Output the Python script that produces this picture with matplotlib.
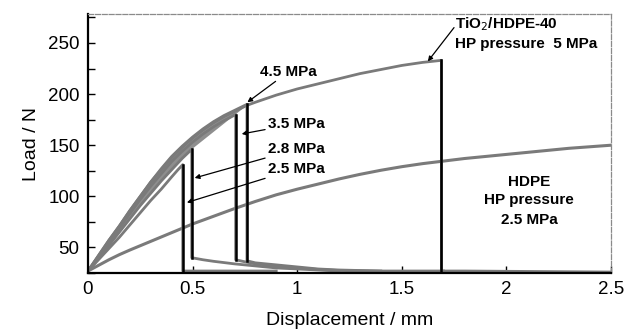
import matplotlib
matplotlib.use("Agg")
import matplotlib.pyplot as plt
from matplotlib.ticker import MultipleLocator, FixedLocator

plt.rcParams['font.family'] = ['Liberation Sans', 'DejaVu Sans']

# ---- data ----
# TiO2/HDPE-40 samples, by HP pressure; "peak" is the index of the last point before the drop
x_50 = [0, 0.05, 0.1, 0.15, 0.2, 0.25, 0.3, 0.35, 0.4, 0.45, 0.5, 0.55, 0.6, 0.65, 0.7,
        0.76, 0.8, 0.9, 1.0, 1.1, 1.2, 1.3, 1.4, 1.5, 1.6, 1.69, 1.69, 1.8, 2.5]
y_50 = [27, 42, 57, 71, 86, 100, 114, 126, 138, 148, 157, 165, 172, 178, 183,
        189, 192, 199, 205, 210, 215, 220, 224, 228, 231, 233, 27, 27, 26]
peak_50 = 25

x_45 = [0, 0.05, 0.1, 0.15, 0.2, 0.25, 0.3, 0.35, 0.4, 0.45, 0.5, 0.55, 0.6, 0.65, 0.7,
        0.76, 0.76, 0.8, 0.9, 1.0, 1.1, 1.2, 1.4, 1.7]
y_45 = [27, 42, 57, 71, 86, 100, 114, 127, 139, 149, 158, 166, 173, 179, 184,
        190, 37, 35, 33, 31, 29, 28, 27, 27]
peak_45 = 15

x_35 = [0, 0.05, 0.1, 0.15, 0.2, 0.25, 0.3, 0.35, 0.4, 0.45, 0.5, 0.55, 0.6, 0.65,
        0.706, 0.706, 0.75, 0.8, 0.9, 1.0, 1.1, 1.2, 1.4]
y_35 = [27, 41, 55, 69, 83, 97, 110, 122, 134, 144, 153, 161, 168, 174,
        180, 38, 36, 34, 32, 30, 28.5, 27.5, 27]
peak_35 = 14

x_28 = [0, 0.05, 0.1, 0.15, 0.2, 0.25, 0.3, 0.35, 0.4, 0.45, 0.496, 0.496,
        0.55, 0.6, 0.7, 0.8, 0.9, 1.0, 1.1, 1.2]
y_28 = [27, 39, 52, 65, 78, 91, 103, 115, 126, 137, 146, 40,
        38, 36.5, 34, 32, 30, 29, 28, 27]
peak_28 = 10

x_25 = [0, 0.05, 0.1, 0.15, 0.2, 0.25, 0.3, 0.35, 0.4, 0.43, 0.453, 0.453, 0.9]
y_25 = [27, 38, 49, 60, 72, 84, 96, 107, 119, 126, 131, 27, 27]
peak_25 = 10

# neat HDPE
x_hdpe = [0, 0.05, 0.1, 0.15, 0.2, 0.3, 0.4, 0.5, 0.6, 0.7, 0.8, 0.9, 1.0, 1.1, 1.2,
          1.3, 1.4, 1.5, 1.6, 1.7, 1.8, 1.9, 2.0, 2.1, 2.2, 2.3, 2.4, 2.5]
y_hdpe = [27, 32.5, 38, 43, 47.5, 56, 64.5, 73, 80.5, 88, 95, 101.5, 107, 112, 117,
          121.5, 125.5, 129, 132, 134.5, 137, 139, 141, 143, 145, 147, 148.5, 150]

x_ticks = [0, 0.5, 1, 1.5, 2, 2.5]
x_ticklabels = ["0", "0.5", "1", "1.5", "2", "2.5"]
y_ticks = [50, 100, 150, 200, 250]

# ---- figure ----
fig = plt.figure(figsize=(6.24, 3.33), dpi=100)
ax = fig.add_axes([0.141, 0.180, 0.838, 0.777])

gray = '#7a7a7a'
curves = [(x_50, y_50, peak_50), (x_45, y_45, peak_45), (x_35, y_35, peak_35),
          (x_28, y_28, peak_28), (x_25, y_25, peak_25)]

# grey band between the highest and the 2.8 MPa rising parts
band_x = x_50[:peak_45 + 1] + x_28[:peak_28 + 1][::-1]
band_y = y_50[:peak_45 + 1] + y_28[:peak_28 + 1][::-1]
ax.fill(band_x, band_y, color='#8e8e8e', lw=0, zorder=1)

for xs, ys, p in curves:
    ax.plot(xs, ys, color=gray, lw=2.0, solid_joinstyle='round', zorder=2)
    ax.plot(xs[p:p + 2], ys[p:p + 2], color='black', lw=1.8, zorder=3)

ax.plot(x_hdpe, y_hdpe, color=gray, lw=2.2, zorder=2)

ax.set_xlim(0, 2.5)
ax.set_ylim(25, 278)

ax.xaxis.set_major_locator(FixedLocator(x_ticks))
ax.set_xticklabels(x_ticklabels)
ax.yaxis.set_major_locator(FixedLocator(y_ticks))
ax.yaxis.set_minor_locator(MultipleLocator(25))
ax.tick_params(axis='both', which='both', direction='in', labelsize=13.5,
               top=False, right=False, width=1.0)
ax.tick_params(axis='both', which='major', length=5, pad=6)
ax.tick_params(axis='y', which='minor', length=5)

for s in ['left', 'bottom']:
    ax.spines[s].set_linewidth(1.6)
    ax.spines[s].set_color('black')
for s in ['top', 'right']:
    ax.spines[s].set_linewidth(0.9)
    ax.spines[s].set_color('#8a8a8a')
    ax.spines[s].set_linestyle((0, (4, 1.5)))

ax.set_xlabel('Displacement / mm', fontsize=14, labelpad=10)
ax.set_ylabel('Load / N', fontsize=14, labelpad=6)

akw = dict(arrowstyle='-|>', color='black', lw=0.9, mutation_scale=7,
           shrinkA=0, shrinkB=0)
tkw = dict(fontsize=11, fontweight='bold')

ax.annotate('4.5 MPa', xy=(0.762, 192), xytext=(0.96, 222),
            ha='center', va='center', arrowprops=akw, **tkw)
ax.annotate('3.5 MPa', xy=(0.735, 161), xytext=(0.86, 171),
            ha='left', va='center', arrowprops=akw, **tkw)
ax.annotate('2.8 MPa', xy=(0.51, 118), xytext=(0.86, 146),
            ha='left', va='center', arrowprops=akw, **tkw)
ax.annotate('2.5 MPa', xy=(0.473, 94), xytext=(0.86, 127),
            ha='left', va='center', arrowprops=akw, **tkw)
ax.annotate('', xy=(1.625, 232), xytext=(1.75, 265), arrowprops=akw)
ax.text(1.755, 268, 'TiO$_2$/HDPE-40', ha='left', va='center', **tkw)
ax.text(1.755, 249, 'HP pressure  5 MPa', ha='left', va='center', **tkw)
ax.text(2.11, 114, 'HDPE', ha='center', va='center', **tkw)
ax.text(2.11, 96, 'HP pressure', ha='center', va='center', **tkw)
ax.text(2.11, 77, '2.5 MPa', ha='center', va='center', **tkw)

fig.savefig('out.png', dpi=100)
